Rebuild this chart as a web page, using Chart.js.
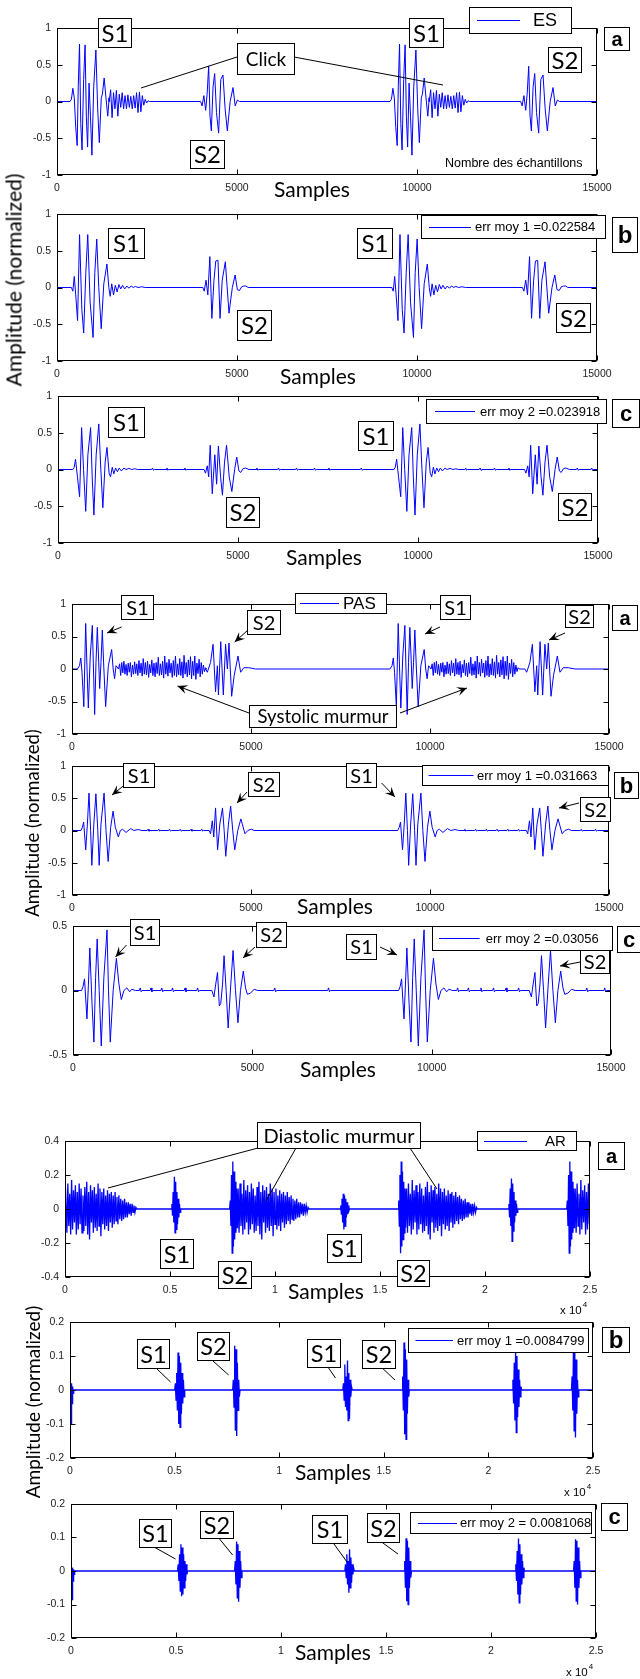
<!DOCTYPE html>
<html><head><meta charset="utf-8">
<script src="https://cdn.jsdelivr.net/npm/chart.js@4.4.1/dist/chart.umd.min.js"></script>
<style>
body{margin:0;background:#fff;}
#wrap{position:relative;width:640px;height:1679px;overflow:hidden;background:#fff;}
canvas{position:absolute;left:0;}
.yt{position:absolute;transform:translate(-50%,-50%) rotate(-90deg);white-space:nowrap;font-family:Lato,"Open Sans",sans-serif;color:#000;z-index:5}
</style></head><body><div id="wrap">
<div class="yt" style="left:13px;top:280px;font-size:21px">Amplitude (normalized)</div>
<div class="yt" style="left:32px;top:823px;font-size:18.5px">Amplitude (normalized)</div>
<div class="yt" style="left:32px;top:1402px;font-size:19px">Amplitude (normalized)</div>
</div>
<script>
// ================= DATA =================
// tick values and labels
const xTicks15k = [0, 5000, 10000, 15000];
const xLabels15k = ['0', '5000', '10000', '15000'];
const xTicks25k = [0, 5000, 10000, 15000, 20000, 25000];
const xLabels25k = ['0', '0.5', '1', '1.5', '2', '2.5'];
const yTicks1 = [-1, -0.5, 0, 0.5, 1];
const yLabels1 = ['-1', '-0.5', '0', '0.5', '1'];
const yTicks05 = [-0.5, 0, 0.5];
const yLabels05 = ['-0.5', '0', '0.5'];
const yTicks04 = [-0.4, -0.2, 0, 0.2, 0.4];
const yLabels04 = ['-0.4', '-0.2', '0', '0.2', '0.4'];
const yTicks02 = [-0.2, -0.1, 0, 0.1, 0.2];
const yLabels02 = ['-0.2', '-0.1', '0', '0.1', '0.2'];

// ---- ES : burst shapes [sample offset, amplitude] ----
const esA_S1 = [[0,0],[40,0.03],[80,0.18],[120,0.05],[160,-0.35],[200,-0.6],[230,0.2],[265,0.78],[300,-0.3],[335,-0.66],[380,0.3],[420,0.77],[455,-0.2],[490,-0.62],[530,0.25],[570,-0.2],[610,-0.73],[660,0.2],[720,0.7],[770,-0.1],[815,-0.56],[870,0.05],[900,0.1],[950,0.32],[1000,0.05],[1050,-0.2],[1090,0.05]];
const esA_click = [0.16,-0.22,0.12,-0.1,0.15,-0.2,0.1,-0.08,0.12,-0.1,0.08,-0.1,0.09,-0.08,0.07,-0.1,0.08,-0.09,0.12,-0.15,0.13,-0.14,0.08,-0.05,0.03,-0.02,0.01];
const esA_S2 = [[0,0],[40,-0.06],[90,0.08],[140,-0.12],[180,0.1],[223,0.48],[260,-0.2],[297,-0.4],[345,0.2],[390,0.38],[440,-0.15],[500,-0.43],[560,0.3],[621,0.36],[680,-0.1],[741,-0.4],[820,0.0],[899,0.19],[960,-0.06],[1020,0.02],[1080,0]];
const esA_S1_at = [360, 9250];
const esA_click_at = [1450, 10340];
const esA_S2_at = [3990, 12880];

const esB_S1 = [[0,0],[40,-0.05],[80,0.15],[120,-0.1],[171,-0.45],[227,0.72],[290,-0.3],[341,-0.62],[400,0.2],[454,0.72],[520,-0.2],[602,-0.68],[650,0.2],[704,0.66],[760,0.0],[828,-0.56],[900,0.05],[987,0.32],[1040,0.0],[1078,-0.12],[1120,0.05],[1170,-0.1],[1220,0.03],[1270,-0.06],[1320,0.04],[1370,-0.02],[1420,0.03],[1480,-0.02],[1540,0.02],[1600,-0.01],[1660,0.02],[1720,0],[1780,0.015],[1850,0],[1950,0.01],[2050,0]];
const esB_S2 = [[0,0],[40,-0.05],[90,0.1],[140,-0.1],[196,0.42],[252,-0.42],[310,0.1],[360,0.36],[422,0.37],[479,-0.42],[540,0.1],[626,0.35],[728,-0.35],[820,0.0],[898,0.17],[960,-0.03],[1020,-0.04],[1080,0.01],[1140,0.02],[1200,0.02],[1260,0]];
const esB_S1_at = [400, 9300];
const esB_S2_at = [4050, 12930];

const esC_S1 = [[0,0],[40,0.03],[77,0.14],[130,-0.1],[190,-0.37],[246,0.57],[300,0.0],[360,-0.57],[420,0.2],[496,0.57],[540,-0.1],[587,-0.62],[650,0.2],[723,0.62],[780,0.0],[836,-0.52],[900,0.1],[950,0.3],[1010,-0.05],[1050,-0.1],[1097,0.03],[1140,-0.06],[1190,0.02],[1240,-0.03],[1290,0.02],[1350,-0.02],[1420,0.02],[1480,0],[1560,0.015],[1640,0],[1720,0.01],[1800,0]];
const esC_S2 = [[0,0],[40,-0.05],[90,0.05],[130,-0.1],[172,0.33],[229,-0.33],[300,0.2],[350,-0.2],[399,0.32],[460,-0.1],[512,-0.35],[570,0.1],[626,0.33],[700,-0.1],[773,-0.3],[850,0.0],[909,0.17],[970,-0.02],[1020,-0.04],[1080,0.01],[1150,0.02],[1250,0]];
const esC_S1_at = [410, 9330];
const esC_S2_at = [4056, 12958];
const ripple = [[0,0],[25,0.02],[50,-0.01],[75,0]];
const esC_ripple_at = [2600, 3000, 3500, 5500, 6100, 6600, 7100, 7500, 8400, 11300, 11700, 12100, 12500, 14400, 14800];

// ---- PAS ----
const pasA_S1 = [[0,0],[60,0.05],[95,0.17],[130,-0.05],[180,-0.58],[232,0.7],[270,0.0],[306,-0.6],[360,0.2],[418,0.67],[450,0.0],[483,-0.7],[520,0.1],[557,0.64],[590,0.2],[623,-0.3],[660,0.1],[697,0.6],[740,0.0],[790,-0.58],[865,0.05],[958,0.3],[1000,0.0],[1040,-0.15],[1080,0.05]];
const pasA_murmur = [0.08,-0.1,0.1,-0.06,0.12,-0.08,0.07,-0.1,0.09,-0.05,0.1,-0.12,0.06,-0.08,0.11,-0.07,0.08,-0.1,0.13,-0.06,
 0.09,-0.11,0.16,-0.08,0.1,-0.09,0.12,-0.13,0.07,-0.06,0.14,-0.1,0.09,-0.12,0.1,-0.07,0.18,-0.1,0.08,-0.09,
 0.12,-0.14,0.2,-0.08,0.1,-0.11,0.15,-0.06,0.09,-0.13,0.13,-0.1,0.2,-0.12,0.08,-0.09,0.16,-0.1,0.11,-0.14,
 0.21,-0.08,0.1,-0.12,0.14,-0.09,0.19,-0.15,0.12,-0.1,0.2,-0.16,0.09,-0.07,0.15,-0.12,0.1,-0.08,0.06,-0.04,0.02];
const pasA_S2 = [[0,0],[50,-0.05],[140,0.1],[210,0.38],[280,-0.35],[330,0.05],[360,-0.4],[425,0.42],[497,-0.4],[560,0.38],[610,0.0],[655,0.4],[730,-0.42],[800,-0.1],[907,0.2],[980,-0.05],[1070,0.02],[1210,0.02],[1400,0]];
const pasA_S1_at = [150, 8880];
const pasA_murmur_at = [1300, 10030];
const pasA_S2_at = [3730, 12650];

const pasB_S1 = [[0,0],[40,0.05],[76,0.13],[133,-0.3],[180,0.1],[224,0.58],[270,0.0],[304,-0.54],[360,0.1],[418,0.57],[470,0.0],[509,-0.54],[560,0.1],[646,0.58],[700,0.0],[760,-0.48],[830,0.05],[897,0.3],[960,0.05],[1045,-0.1],[1100,0.0],[1160,0.02],[1260,-0.03],[1390,0.03],[1480,0],[1600,0.015],[1700,0]];
const pasB_S2 = [[0,0],[40,-0.05],[89,0.15],[130,-0.1],[180,0.35],[237,-0.3],[300,0.1],[374,0.35],[420,0.0],[465,-0.4],[540,0.1],[602,0.38],[660,0.0],[716,-0.3],[800,0.0],[887,0.18],[1001,-0.05],[1080,0.0],[1180,0.02],[1260,0]];
const pasB_S1_at = [250, 9100];
const pasB_S2_at = [3830, 12690];
const pasB_ripple_at = [2100, 2400, 2700, 3000, 3300, 3600, 10950, 11250, 11550, 11850, 12150, 12450, 14200, 14600];

const pasC_S1 = [[0,0],[40,0.03],[81,0.09],[149,-0.22],[190,0.05],[229,0.33],[290,-0.1],[343,-0.4],[390,0.1],[434,0.4],[490,0.0],[548,-0.43],[620,0.1],[708,0.47],[750,0.0],[799,-0.4],[880,0.0],[970,0.25],[1040,0.05],[1107,-0.07],[1180,0.0],[1260,0.02],[1340,-0.01],[1400,0.01],[1500,0]];
const pasC_S2 = [[0,0],[60,-0.05],[110,0.05],[159,0.14],[210,-0.12],[250,-0.1],[300,0.05],[342,0.27],[400,0.0],[456,-0.29],[530,0.05],[593,0.31],[660,0.0],[729,-0.25],[800,0.0],[878,0.15],[940,0.02],[992,-0.03],[1080,-0.02],[1180,0.01],[1280,0]];
const pasC_S1_at = [240, 9080];
const pasC_S2_at = [3870, 12720];
const pasC_ripple_at = [1850, 2150, 2450, 2750, 3100, 3450, 5600, 7100, 10700, 11000, 11350, 11700, 12050, 12400, 14300, 14800];

// ---- AR ----
const arA_murmur = [
 0.12,-0.14,0.15,-0.1,0.09,-0.15,0.17,-0.12,0.11,-0.08,
 0.14,-0.15,0.1,-0.12,0.15,-0.09,0.12,-0.14,0.08,-0.13,
 0.13,-0.1,0.16,-0.15,0.1,-0.18,0.14,-0.08,0.11,-0.14,
 0.13,-0.11,0.09,-0.13,0.15,-0.1,0.12,-0.16,0.1,-0.09,
 0.12,-0.12,0.08,-0.1,0.11,-0.13,0.09,-0.08,0.1,-0.11,
 0.08,-0.09,0.1,-0.07,0.07,-0.09,0.08,-0.06,0.06,-0.07,
 0.05,-0.06,0.06,-0.05,0.04,-0.05,0.04,-0.03,0.03,-0.04,
 0.03,-0.02,0.02,-0.02,0.01,0];
const arA_S1a = [0.03,-0.04,0.1,-0.08,0.19,-0.14,0.16,-0.12,0.1,-0.09,0.06,-0.05,0.03,-0.02];
const arA_S1b = [0.02,-0.03,0.06,-0.08,0.09,-0.12,0.08,-0.1,0.06,-0.05,0.04,-0.03,0.02,-0.01];
const arA_S1c = [0.03,-0.05,0.12,-0.1,0.18,-0.19,0.15,-0.13,0.1,-0.08,0.05,-0.04,0.03,-0.02];
const arA_S2 = [0.05,-0.1,0.2,-0.26,0.28,-0.22,0.22,-0.18,0.16,-0.14,0.12,-0.11];
const arA_murmur_at = [0, 8200, 16220, 24250];
const arA_S1_at = [5060, 13100, 21110];
const arA_S2_at = [7840, 15860, 23890];

const arB_start = [0.035,-0.1,0.02,-0.04,0.01,-0.01];
const arB_S1a = [0.02,-0.03,0.05,-0.06,0.11,-0.1,0.1,-0.11,0.08,-0.07,0.05,-0.04,0.03,-0.02];
const arB_S2a = [0.03,-0.05,0.13,-0.12,0.12,-0.135,0.08,-0.06,0.03,-0.02];
const arB_S1b = [0.02,-0.03,0.075,-0.05,0.04,-0.06,0.087,-0.09,0.05,-0.085,0.03,-0.02,0.01];
const arB_S2b = [0.04,-0.06,0.14,-0.13,0.12,-0.145,0.09,-0.07,0.03,-0.02];
const arB_S1c = [0.03,-0.04,0.08,-0.09,0.12,-0.125,0.1,-0.08,0.06,-0.05,0.03,-0.02,0.01];
const arB_S2c = [0.04,-0.06,0.125,-0.12,0.11,-0.14,0.09,-0.07,0.03,-0.02];
const arB_at = [0, 5005, 7776, 13040, 15870, 21140, 23970];

const arC_start = [0.01,-0.085,0.01,-0.03,0.005,-0.01];
const arC_S1a = [0.02,-0.03,0.05,-0.06,0.08,-0.075,0.07,-0.07,0.05,-0.05,0.03,-0.03,0.02,-0.01];
const arC_S2a = [0.03,-0.04,0.088,-0.08,0.08,-0.092,0.06,-0.05,0.03,-0.02];
const arC_S1b = [0.02,-0.02,0.05,-0.04,0.03,-0.065,0.065,-0.05,0.04,-0.035,0.02,-0.01,0.01];
const arC_S2b = [0.03,-0.05,0.098,-0.09,0.09,-0.1,0.07,-0.05,0.03,-0.02];
const arC_S1c = [0.02,-0.03,0.06,-0.07,0.097,-0.095,0.08,-0.07,0.05,-0.04,0.03,-0.02,0.01];
const arC_S2c = [0.03,-0.05,0.095,-0.09,0.09,-0.1,0.07,-0.05,0.03,-0.02];
const arC_at = [0, 5074, 7790, 13040, 15860, 21150, 23930];

// ================= BUILD =================
function pairsAt(at, shape) { return at.map(s => ({at: s, pairs: shape})); }
function denseAt(at, vals, step) { return at.map(s => ({at: s, vals, step})); }
function buildSeries(events, xMax) {
  events.sort((a, b) => a.at - b.at);
  const pts = [{x: 0, y: 0}];
  events.forEach(ev => {
    if (ev.vals) {
      pts.push({x: ev.at, y: 0});
      ev.vals.forEach((v, i) => pts.push({x: ev.at + (i + 1) * ev.step, y: v}));
      pts.push({x: ev.at + (ev.vals.length + 1) * ev.step, y: 0});
    } else {
      ev.pairs.forEach(([dx, v]) => pts.push({x: ev.at + dx, y: v}));
    }
  });
  pts.push({x: xMax, y: 0});
  return pts;
}

const LATO = 'Lato, "Open Sans", sans-serif';
const ARIAL = '"Liberation Sans", Arial, sans-serif';
const lab = (x, y, w, h, text, size) => ({k: 'box', x, y, w, h, text, font: `${size}px ${LATO}`});
const tag = (x, y, w, h, text, size) => ({k: 'box', x, y, w, h, text, font: `bold ${size}px ${ARIAL}`});
const ln = (x1, y1, x2, y2, arrow) => ({k: 'line', x1, y1, x2, y2, arrow});
const leg = (x, y, w, h, lx1, lx2, tx, text, size) => ({k: 'legend', x, y, w, h, lx1, lx2, tx, text, font: `${size}px ${ARIAL}`});
const txt = (x, y, text, font, align) => ({k: 'text', x, y, text, font, align});
const samples = (x, y) => txt(x, y, 'Samples', `21px ${LATO}`, 'center');
const xexp = (x, y) => ({k: 'exp', x, y});

const panels = [
  { L:57, T:28, R:597, B:175, xMax:15000, xT:xTicks15k, xL:xLabels15k, yMin:-1, yMax:1, yT:yTicks1, yL:yLabels1,
    data: buildSeries([...pairsAt(esA_S1_at, esA_S1), ...denseAt(esA_click_at, esA_click, 40), ...pairsAt(esA_S2_at, esA_S2)], 15000),
    items: [ln(84,60,180,29), ln(237,29,386,57),
      lab(41,-10,33,29,'S1',24), lab(180,15,57,31,'Click',19), lab(133,112,34,28,'S2',24),
      lab(352,-10,34,29,'S1',24), lab(491,19,33,25,'S2',24),
      leg(412,-21,102,26,420,463,476,'ES',18), tag(547,-1,25,23,'a',20),
      txt(388,136,'Nombre des échantillons',`12.5px ${ARIAL}`,'left'), samples(255,162)] },
  { L:57, T:214, R:597, B:361, xMax:15000, xT:xTicks15k, xL:xLabels15k, yMin:-1, yMax:1, yT:yTicks1, yL:yLabels1,
    data: buildSeries([...pairsAt(esB_S1_at, esB_S1), ...pairsAt(esB_S2_at, esB_S2)], 15000),
    items: [lab(51,14,36,30,'S1',24), lab(180,96,34,30,'S2',24), lab(300,14,35,30,'S1',24), lab(499,89,34,29,'S2',24),
      leg(364,1,184,23,372,414,418,'err moy 1 =0.022584',13), tag(555,3,25,35,'b',24), samples(261,163)] },
  { L:58, T:396, R:598, B:543, xMax:15000, xT:xTicks15k, xL:xLabels15k, yMin:-1, yMax:1, yT:yTicks1, yL:yLabels1,
    data: buildSeries([...pairsAt(esC_S1_at, esC_S1), ...pairsAt(esC_S2_at, esC_S2), ...pairsAt(esC_ripple_at, ripple)], 15000),
    items: [lab(50,11,36,30,'S1',24), lab(168,101,33,30,'S2',24), lab(300,25,35,29,'S1',24), lab(500,97,33,27,'S2',24),
      leg(368,3,180,24,377,417,422,'err moy 2 =0.023918',13), tag(554,3,27,28,'c',22), samples(266,162)] },
  { L:72, T:604, R:609, B:734, xMax:15000, xT:xTicks15k, xL:xLabels15k, yMin:-1, yMax:1, yT:yTicks1, yL:yLabels1,
    data: buildSeries([...pairsAt(pasA_S1_at, pasA_S1), ...denseAt(pasA_murmur_at, pasA_murmur, 30), ...pairsAt(pasA_S2_at, pasA_S2)], 15000),
    items: [ln(177,109,105.5,82,true), ln(328,109,395,84,true),
      ln(49.6,23,35,29,true), ln(176,26,162.7,38,true), ln(368,23,353,30,true), ln(493,29,477,36,true),
      lab(49,-9,32,24,'S1',20), lab(175,6,33,24,'S2',20), lab(368,-9,30,24,'S1',20), lab(493,1,28,22,'S2',20),
      lab(177,101,147,22,'Systolic murmur',18.5),
      leg(223,-11,91,20,228,267,271,'PAS',17), tag(540,1,25,25,'a',20)] },
  { L:72, T:766, R:609, B:895, xMax:15000, xT:xTicks15k, xL:xLabels15k, yMin:-1, yMax:1, yT:yTicks1, yL:yLabels1,
    data: buildSeries([...pairsAt(pasB_S1_at, pasB_S1), ...pairsAt(pasB_S2_at, pasB_S2), ...pairsAt(pasB_ripple_at, ripple)], 15000),
    items: [ln(52.5,19,40,29,true), ln(175,26,165,37,true), ln(309.6,17,323,31,true), ln(507,37,487,42,true),
      lab(51,-3,31,24,'S1',20), lab(176,6,31,24,'S2',20), lab(274,-3,30,24,'S1',20), lab(508,31,30,24,'S2',20),
      leg(350,-1,186,20,356.6,401.5,405,'err moy 1 =0.031663',13), tag(542,6,24,26,'b',22), samples(263,141)] },
  { L:73, T:926, R:611, B:1055, xMax:15000, xT:xTicks15k, xL:xLabels15k, yMin:-0.5, yMax:0.5, yT:yTicks05, yL:yLabels05,
    data: buildSeries([...pairsAt(pasC_S1_at, pasC_S1), ...pairsAt(pasC_S2_at, pasC_S2), ...pairsAt(pasC_ripple_at, ripple)], 15000),
    items: [ln(53.5,19,42.5,31,true), ln(182,21,170,32,true), ln(307,21,324,29,true), ln(507,36,487,40,true),
      lab(57,-7,29,26,'S1',20), lab(183,-4,30,25,'S2',20), lab(273,8,30,25,'S1',20), lab(507,23,29,24,'S2',20),
      leg(359,0,180,24,366,406.6,412.7,'err moy 2 =0.03056',13), tag(544,0,23,26,'c',22), samples(265,144)] },
  { L:65, T:1141, R:590, B:1277, xMax:25000, xT:xTicks25k, xL:xLabels25k, yMin:-0.4, yMax:0.4, yT:yTicks04, yL:yLabels04, lw:1.3,
    data: buildSeries([...denseAt(arA_murmur_at, arA_murmur, 45), ...denseAt([arA_S1_at[0]], arA_S1a, 30), ...denseAt([arA_S1_at[1]], arA_S1b, 30), ...denseAt([arA_S1_at[2]], arA_S1c, 30), ...denseAt(arA_S2_at, arA_S2, 30)], 25000),
    items: [ln(193,7,43,47), ln(231,7,201,60), ln(345,7,372,48),
      lab(192,-19,163,26,'Diastolic murmur',20), leg(412,-10,98.5,19,419,462,480,'AR',15), tag(533,1,26,27,'a',20),
      lab(95,98,33,29,'S1',23.5), lab(152.5,120,32.5,27,'S2',23.5), lab(261.5,93,33.5,28,'S1',23.5), lab(332,119,32,26,'S2',23.5),
      samples(261,151), xexp(495,169)] },
  { L:70, T:1322, R:593, B:1458, xMax:25000, xT:xTicks25k, xL:xLabels25k, yMin:-0.2, yMax:0.2, yT:yTicks02, yL:yLabels02, lw:1.3,
    data: buildSeries([arB_start, arB_S1a, arB_S2a, arB_S1b, arB_S2b, arB_S1c, arB_S2c].map((v, i) => ({at: arB_at[i], vals: v, step: i === 0 ? 25 : 32})), 25000),
    items: [ln(87,47,100.6,60), ln(143,39,158.6,53), ln(256.5,43,265.5,56), ln(309,43,325,58),
      lab(67,17,32,29,'S1',23.5), lab(127,10,32,28,'S2',23.5), lab(237,17,33,28,'S1',23.5), lab(292,18,33,28,'S2',23.5),
      leg(338,6,180,24,345.5,383,387,'err moy 1 =0.0084799',13), tag(532,5,27,25,'b',24), samples(263,151), xexp(494,170)] },
  { L:71, T:1504, R:596, B:1638, xMax:25000, xT:xTicks25k, xL:xLabels25k, yMin:-0.2, yMax:0.2, yT:yTicks02, yL:yLabels02, lw:1.3,
    data: buildSeries([arC_start, arC_S1a, arC_S2a, arC_S1b, arC_S2b, arC_S1c, arC_S2c].map((v, i) => ({at: arC_at[i], vals: v, step: i === 0 ? 25 : 32})), 25000),
    items: [ln(83,43,104.5,55), ln(148.6,35,161.6,51), ln(263,40,276,58), ln(310.6,38,327,50),
      lab(68,15,32,28,'S1',23.5), lab(129,7,33,27,'S2',23.5), lab(241,11,35,28,'S1',23.5), lab(296,9,32,29,'S2',23.5),
      leg(339,8,181,21,347,386,389,'err moy 2 = 0.0081068',13), tag(530,-1,26,27,'c',22), samples(262,149), xexp(495,168)] }
];

// ================= DRAW =================
function drawItem(ctx, it, ox, oy) {
  ctx.save();
  if (it.k === 'line') {
    const x1 = ox + it.x1, y1 = oy + it.y1, x2 = ox + it.x2, y2 = oy + it.y2;
    ctx.strokeStyle = '#000'; ctx.lineWidth = 1;
    ctx.beginPath(); ctx.moveTo(x1, y1); ctx.lineTo(x2, y2); ctx.stroke();
    if (it.arrow) {
      const a = Math.atan2(y2 - y1, x2 - x1), L = 10, W = 4.5;
      ctx.fillStyle = '#000';
      ctx.beginPath();
      ctx.moveTo(x2, y2);
      ctx.lineTo(x2 - L * Math.cos(a) + W * Math.sin(a), y2 - L * Math.sin(a) - W * Math.cos(a));
      ctx.lineTo(x2 - 0.6 * L * Math.cos(a), y2 - 0.6 * L * Math.sin(a));
      ctx.lineTo(x2 - L * Math.cos(a) - W * Math.sin(a), y2 - L * Math.sin(a) + W * Math.cos(a));
      ctx.closePath(); ctx.fill();
    }
  } else if (it.k === 'box' || it.k === 'legend') {
    const x = Math.round(ox + it.x), y = Math.round(oy + it.y), w = Math.round(it.w), h = Math.round(it.h);
    ctx.fillStyle = '#fff'; ctx.fillRect(x, y, w, h);
    ctx.strokeStyle = '#000'; ctx.lineWidth = 1; ctx.strokeRect(x + 0.5, y + 0.5, w, h);
    ctx.fillStyle = '#000'; ctx.font = it.font; ctx.textBaseline = 'middle';
    if (it.k === 'box') {
      ctx.textAlign = 'center'; ctx.fillText(it.text, x + w / 2 + 0.5, y + h / 2 + 1.5);
    } else {
      ctx.strokeStyle = '#0000ff'; ctx.lineWidth = 1.2;
      const ly = Math.round(y + h / 2) + 0.5;
      ctx.beginPath(); ctx.moveTo(ox + it.lx1, ly); ctx.lineTo(ox + it.lx2, ly); ctx.stroke();
      ctx.textAlign = 'left'; ctx.fillText(it.text, ox + it.tx, y + h / 2 + 1);
    }
  } else if (it.k === 'text') {
    ctx.fillStyle = '#000'; ctx.font = it.font; ctx.textAlign = it.align; ctx.textBaseline = 'middle';
    ctx.fillText(it.text, ox + it.x, oy + it.y);
  } else if (it.k === 'exp') {
    ctx.fillStyle = '#000'; ctx.textBaseline = 'alphabetic'; ctx.textAlign = 'left';
    ctx.font = `11.5px ${ARIAL}`;
    ctx.fillText('x 10', ox + it.x, oy + it.y + 4);
    const w = ctx.measureText('x 10').width;
    ctx.font = `8px ${ARIAL}`;
    ctx.fillText('4', ox + it.x + w + 1, oy + it.y - 3);
  }
  ctx.restore();
}

function annPlugin(items) {
  return {
    id: 'ann',
    afterDatasetsDraw(chart) {
      const ctx = chart.ctx, a = chart.chartArea, sx = chart.scales.x, sy = chart.scales.y;
      ctx.save();
      ctx.strokeStyle = '#000'; ctx.lineWidth = 1;
      const l = Math.round(a.left) + 0.5, t = Math.round(a.top) + 0.5, r = Math.round(a.right) - 0.5, b = Math.round(a.bottom) - 0.5;
      ctx.strokeRect(l, t, r - l, b - t);
      ctx.beginPath();
      sx.ticks.forEach(tk => { const p = Math.round(sx.getPixelForValue(tk.value)) + 0.5; ctx.moveTo(p, b); ctx.lineTo(p, b - 5); ctx.moveTo(p, t); ctx.lineTo(p, t + 5); });
      sy.ticks.forEach(tk => { const p = Math.round(sy.getPixelForValue(tk.value)) + 0.5; ctx.moveTo(l, p); ctx.lineTo(l + 5, p); ctx.moveTo(r, p); ctx.lineTo(r - 5, p); });
      ctx.stroke();
      ctx.restore();
      items.filter(i => i.k === 'line').forEach(it => drawItem(ctx, it, a.left, a.top));
      items.filter(i => i.k !== 'line').forEach(it => drawItem(ctx, it, a.left, a.top));
    }
  };
}

const wrap = document.getElementById('wrap');
const PADT = 32, XH = 45;
panels.forEach(p => {
  const c = document.createElement('canvas');
  const top = p.T - PADT, h = (p.B - p.T) + PADT + XH;
  c.width = 640; c.height = h;
  c.style.top = top + 'px'; c.style.width = '640px'; c.style.height = h + 'px';
  wrap.appendChild(c);
  new Chart(c.getContext('2d'), {
    type: 'line',
    data: { datasets: [{ data: p.data, borderColor: '#0000ff', borderWidth: p.lw || 1, pointRadius: 0, tension: 0, fill: false }] },
    options: {
      animation: false, responsive: false, maintainAspectRatio: false, devicePixelRatio: 1, events: [],
      parsing: false,
      layout: { padding: { top: PADT, left: 0, right: 640 - p.R, bottom: 0 } },
      plugins: { legend: { display: false }, tooltip: { enabled: false }, title: { display: false } },
      scales: {
        x: { type: 'linear', min: 0, max: p.xMax,
          afterBuildTicks: ax => { ax.ticks = p.xT.map(v => ({ value: v })); },
          afterFit: ax => { ax.height = XH; },
          grid: { display: false, drawTicks: false }, border: { display: false },
          ticks: { callback: (v, i) => p.xL[i], font: { size: 10.5, family: ARIAL }, color: '#222', padding: 7, maxRotation: 0, autoSkip: false } },
        y: { type: 'linear', min: p.yMin, max: p.yMax,
          afterBuildTicks: ax => { ax.ticks = p.yT.map(v => ({ value: v })); },
          afterFit: ax => { ax.width = p.L; },
          grid: { display: false, drawTicks: false }, border: { display: false },
          ticks: { callback: (v, i) => p.yL[i], font: { size: 10.5, family: ARIAL }, color: '#222', padding: 6, autoSkip: false } }
      }
    },
    plugins: [annPlugin(p.items)]
  });
});
</script>
</body></html>
